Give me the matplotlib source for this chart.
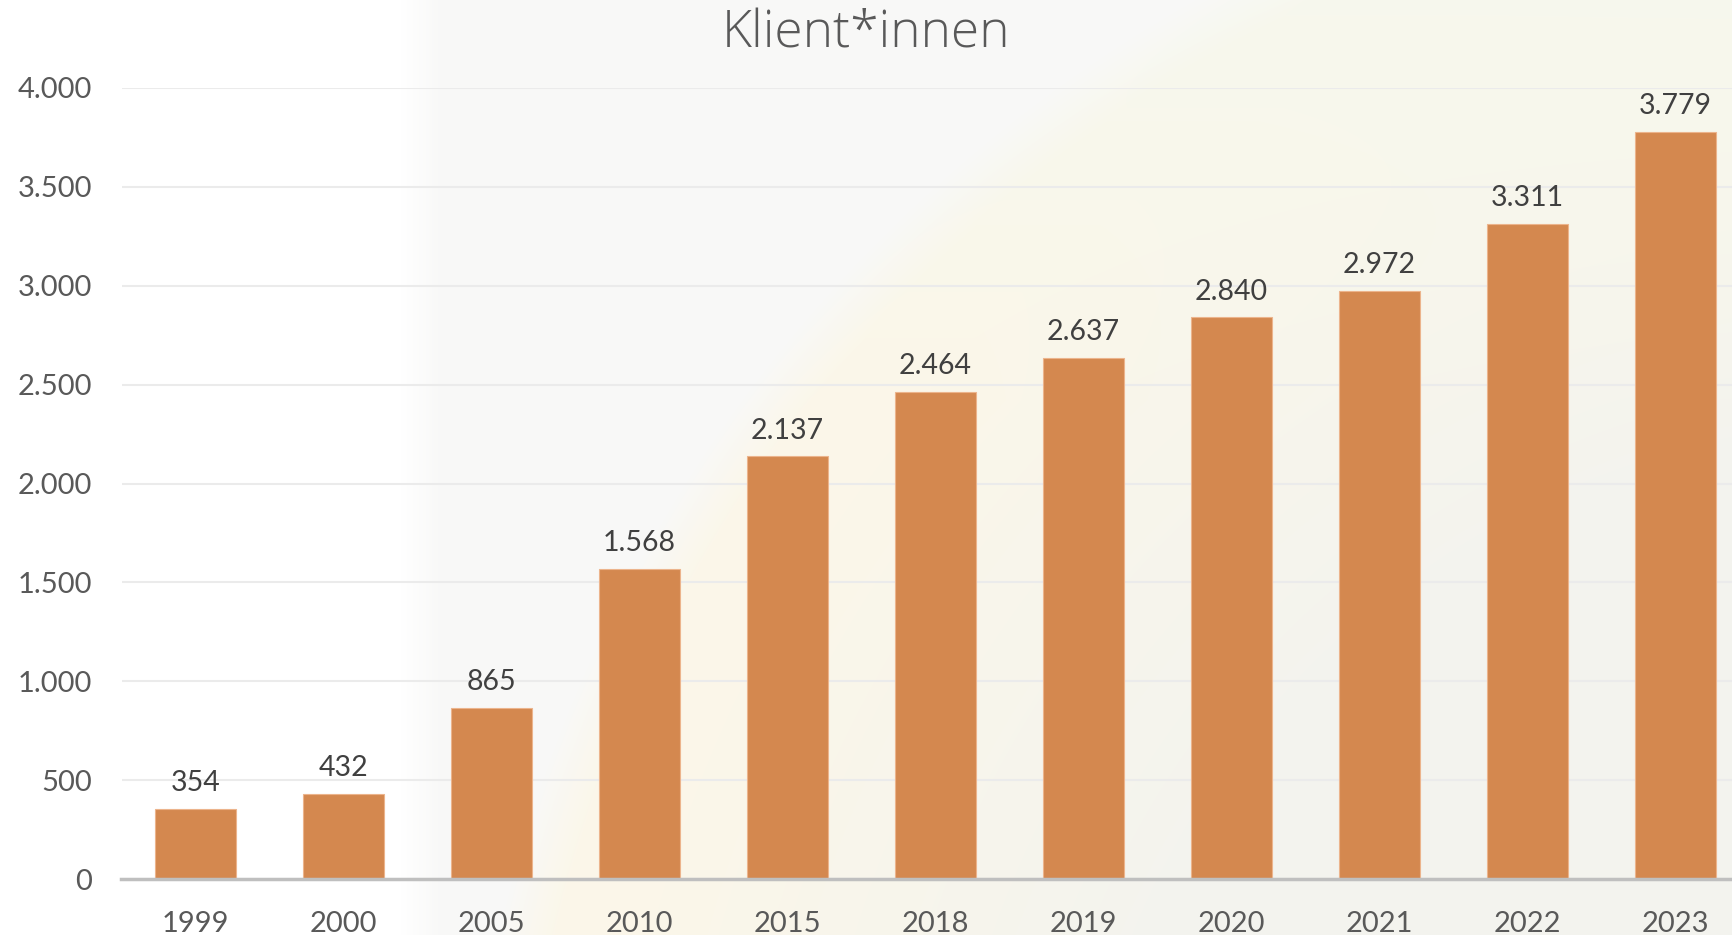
import matplotlib
matplotlib.use("Agg")
import matplotlib.pyplot as plt
import numpy as np

years = ["1999", "2000", "2005", "2010", "2015", "2018", "2019", "2020", "2021", "2022", "2023"]
clients = [354, 432, 865, 1568, 2137, 2464, 2637, 2840, 2972, 3311, 3779]
y_ticks = [0, 500, 1000, 1500, 2000, 2500, 3000, 3500, 4000]

plt.rcParams['font.family'] = ['Lato', 'DejaVu Sans']

W, H = 1732, 935
fig = plt.figure(figsize=(W / 100, H / 100), dpi=100)

# soft background: white left part, faint grey right part, cream arc
yy, xx = np.mgrid[0:H, 0:W].astype(float)
img = np.ones((H, W, 3))
grey = np.array([0.975, 0.975, 0.972])
step = np.clip((xx - 400) / 40.0, 0, 1)[..., None]
img = img * (1 - step) + grey * step
d = np.hypot(xx - 1900, yy - 1250)
inside = np.clip((1440 - d) / 60.0, 0, 1)[..., None]
cream = np.array([0.985, 0.968, 0.915])
deep = np.array([0.955, 0.955, 0.935])
depth = np.clip((1300 - d) / 500.0, 0, 1)[..., None]
arc_col = cream * (1 - depth) + deep * depth
top = np.clip((400 - yy) / 400.0, 0, 1)[..., None]
arc_col = arc_col * (1 - top) + np.array([0.968, 0.972, 0.93]) * top
img = img * (1 - inside) + arc_col * inside
bg = fig.add_axes([0, 0, 1, 1], zorder=-1)
bg.imshow(img, aspect='auto', extent=[0, 1, 0, 1])
bg.axis('off')

ax = fig.add_axes([121.5 / W, 1 - 879 / H, 1 - 121.5 / W, (879 - 88) / H])
ax.set_facecolor('none')

x = np.arange(len(years))
bars = ax.bar(x, clients, width=0.55, color='#d4884f', edgecolor='#ecb48c', linewidth=0.8, zorder=3)
for xi, v in zip(x, clients):
    label = f"{v:,}".replace(",", ".")
    ax.text(xi, v + 65, label, ha='center', va='bottom', fontsize=20.5, color='#404040', zorder=4)

ax.set_xlim(-0.5, (W - 195.5) / 148.0)
ax.set_ylim(0, 4000)
ax.set_yticks(y_ticks)
ax.set_yticklabels([f"{t:,}".replace(",", ".") for t in y_ticks])
ax.set_xticks(x)
ax.set_xticklabels(years)
ax.tick_params(axis='y', length=0, pad=21, labelsize=21, labelcolor='#595959')
ax.tick_params(axis='x', length=0, pad=23, labelsize=21, labelcolor='#595959')
ax.yaxis.grid(True, color='#ebebeb', linewidth=1.5, zorder=0)
for s in ['top', 'right', 'left']:
    ax.spines[s].set_visible(False)
ax.spines['bottom'].set_color('#bfbfbf')
ax.spines['bottom'].set_linewidth(2.5)
ax.spines['bottom'].set_zorder(5)

fig.text(0.5, 1 - 34 / H, "Klient*innen", ha='center', va='center', fontsize=37,
         color='#595959', fontweight='light', family=['Open Sans', 'DejaVu Sans'])

fig.savefig("out.png", dpi=100)
